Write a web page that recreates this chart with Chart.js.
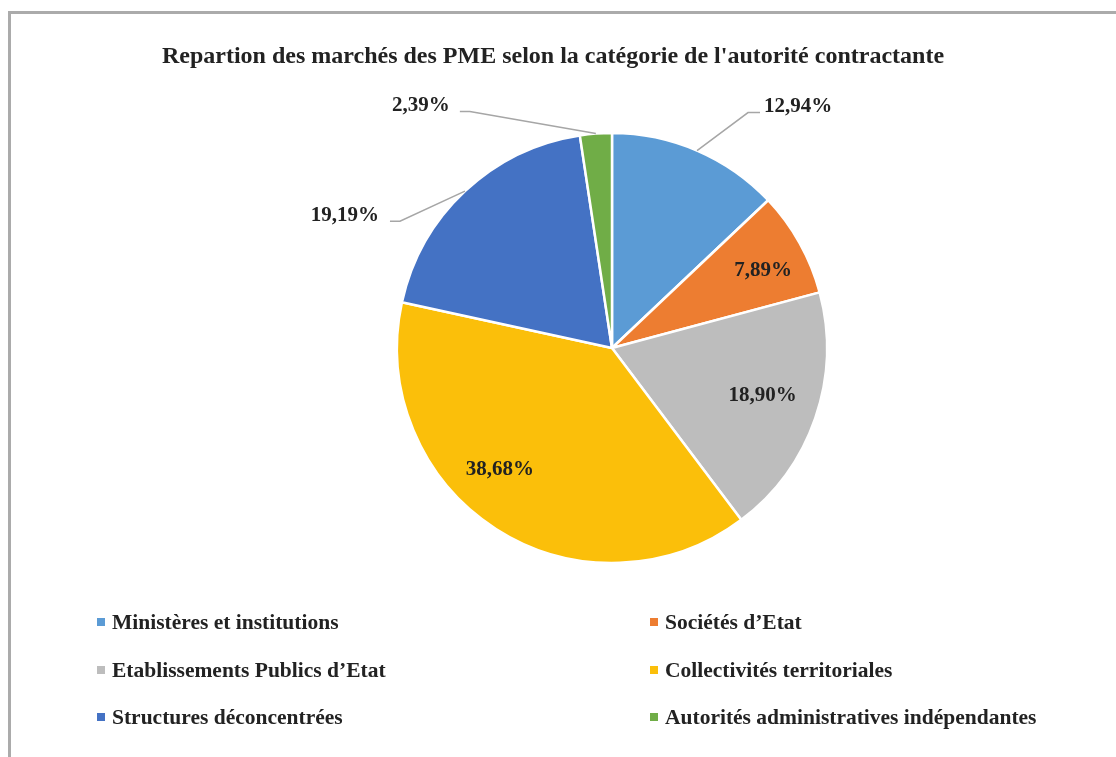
<!DOCTYPE html>
<html>
<head>
<meta charset="utf-8">
<script src="https://cdn.jsdelivr.net/npm/chart.js@4.4.1/dist/chart.umd.min.js"></script>
<style>
    body { margin: 0; background: #fff; width: 1116px; height: 757px; overflow: hidden; position: relative; }
    #frame { position: absolute; left: 8px; top: 11px; width: 1200px; height: 800px; border: 3px solid #ababab; }
    #chartBox { position: absolute; left: 0; top: 0; width: 1116px; height: 757px; }
    #title { position: absolute; left: 0; width: 1106px; top: 40px; text-align: center; font-family: "Liberation Serif", "Times New Roman", serif; font-weight: bold; font-size: 24px; color: #222; line-height: 30px; }
    .legendItem { position: absolute; font-family: "Liberation Serif", "Times New Roman", serif; font-weight: bold; font-size: 21.5px; color: #222; white-space: nowrap; line-height: 26px; }
    .legendItem span { display: inline-block; width: 8px; height: 8px; margin-right: 7px; vertical-align: middle; position: relative; top: -2px; }
</style>
</head>
<body>
<div id="frame"></div>
<div id="chartBox"><canvas id="pieChart"></canvas></div>
<div id="title"></div>
<div id="legendBox"></div>
<script>
var titleText = "Repartion des marchés des PME selon la catégorie de l'autorité contractante";
var categories = ["Ministères et institutions", "Sociétés d\u2019Etat", "Etablissements Publics d\u2019Etat",
                  "Collectivités territoriales", "Structures déconcentrées", "Autorités administratives indépendantes"];
var shares = [12.94, 7.89, 18.90, 38.68, 19.19, 2.39];
var colourList = ["#5b9bd5", "#ed7d31", "#bdbdbd", "#fbbf0a", "#4472c4", "#70ad47"];

// where each percent label goes, relative to its slice
var labelPlacement = [
    { outside: true, elbowX: 51, elbowY: -38, tail: 12, side: 1, gap: 4 },
    { outside: false, rFrac: 0.79, nudge: 2 },
    { outside: false, rFrac: 0.735, nudge: -1.4 },
    { outside: false, rFrac: 0.77, nudge: 10 },
    { outside: true, elbowX: -65, elbowY: 30, tail: 10, side: -1, gap: 11 },
    { outside: true, elbowX: -126, elbowY: -22, tail: 10, side: -1, gap: 10 }
];

function formatPct(v){
    return v.toFixed(2).replace(".", ",") + "%";
}

var pieLabels = {
    id: "pieLabels",
    afterDatasetsDraw: function(chart){
        var ctx = chart.ctx;
        var arcs = chart.getDatasetMeta(0).data;
        ctx.save();
        ctx.font = "bold 21px 'Liberation Serif', 'Times New Roman', serif";
        ctx.fillStyle = "#222";
        ctx.textBaseline = "middle";
        for(var i=0; i<arcs.length; i++){
            var p = arcs[i].getProps(["x", "y", "startAngle", "endAngle", "outerRadius"], true);
            var mid = (p.startAngle + p.endAngle) / 2;
            var place = labelPlacement[i];
            var text = formatPct(shares[i]);
            if(place.outside){
                var sx = p.x + Math.cos(mid) * p.outerRadius;
                var sy = p.y + Math.sin(mid) * p.outerRadius;
                var ex = sx + place.elbowX;
                var ey = sy + place.elbowY;
                var tx = ex + place.tail * place.side;
                ctx.strokeStyle = "#a6a6a6";
                ctx.lineWidth = 1.5;
                ctx.beginPath();
                ctx.moveTo(sx, sy);
                ctx.lineTo(ex, ey);
                ctx.lineTo(tx, ey);
                ctx.stroke();
                ctx.textAlign = place.side > 0 ? "left" : "right";
                ctx.fillText(text, tx + place.gap * place.side, ey - 6);
            } else {
                var a = mid + place.nudge * Math.PI / 180;
                var r = p.outerRadius * place.rFrac;
                ctx.textAlign = "center";
                ctx.fillText(text, p.x + Math.cos(a) * r, p.y + Math.sin(a) * r);
            }
        }
        ctx.restore();
    }
};

document.getElementById("title").textContent = titleText;

new Chart("pieChart", {
    type: "pie",
    data: {
        labels: categories,
        datasets: [{
            data: shares,
            backgroundColor: colourList,
            borderColor: "#ffffff",
            borderWidth: 2.5
        }]
    },
    options: {
        responsive: true,
        maintainAspectRatio: false,
        animation: false,
        radius: 215,
        layout: { padding: { left: 108, right: 0, top: 77, bottom: 138 } },
        plugins: {
            legend: { display: false },
            tooltip: { enabled: false },
            title: { display: false }
        }
    },
    plugins: [pieLabels]
});

// html legend in two columns
var legendBox = document.getElementById("legendBox");
for(var i=0; i<categories.length; i++){
    var item = document.createElement("div");
    item.className = "legendItem";
    item.style.left = (i % 2 == 0 ? 97 : 650) + "px";
    item.style.top = (609 + Math.floor(i / 2) * 47.5) + "px";
    item.innerHTML = '<span style="background:' + colourList[i] + '"></span>' + categories[i];
    legendBox.appendChild(item);
}
</script>
</body>
</html>
